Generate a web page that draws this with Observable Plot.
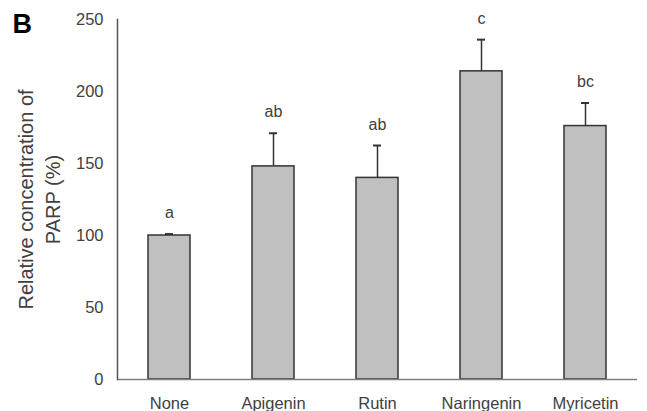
<!DOCTYPE html>
<html>
<head>
<meta charset="utf-8">
<script src="https://cdn.jsdelivr.net/npm/d3@7"></script>
<script src="https://cdn.jsdelivr.net/npm/@observablehq/plot@0.6"></script>
<style>
  html, body { margin: 0; padding: 0; background: #fff; }
  #chart { width: 647px; height: 411px; overflow: hidden; }
</style>
</head>
<body>
<div id="chart"></div>
<script>
const categories = ["None", "Apigenin", "Rutin", "Naringenin", "Myricetin"];
const means = [100, 148, 140, 214, 176];
const errors = [1, 23, 22.5, 22, 16];
const letters = ["a", "ab", "ab", "c", "bc"];
const yTicks = [0, 50, 100, 150, 200, 250];
const yTitle = "Relative concentration of\nPARP (%)";
const panelLabel = "B";

const data = categories.map((name, i) => ({
  name, mean: means[i], top: means[i] + errors[i], letter: letters[i]
}));

const font = "'Liberation Sans', Arial, Helvetica, sans-serif";
const textColor = "#404040";

const chart = Plot.plot({
  width: 647,
  height: 411,
  marginLeft: 117,
  marginRight: 10,
  marginTop: 19,
  marginBottom: 32,
  style: { fontFamily: font, color: textColor, background: "#fff", overflow: "visible" },
  x: { domain: categories, paddingInner: 0.6, paddingOuter: 0.3, axis: null },
  y: { domain: [0, 250], axis: null },
  marks: [
    Plot.axisY({ ticks: yTicks, tickSize: 0, tickPadding: 14, fontSize: 16.5, label: null }),
    Plot.axisX({ tickSize: 0, tickPadding: 18, fontSize: 16.5, label: null }),
    Plot.ruleX(data, { x: "name", y1: "mean", y2: "top", stroke: "#333", strokeWidth: 1.5 }),
    Plot.tickY(data, { x: "name", y: "top", stroke: "#333", strokeWidth: 2, insetLeft: 17, insetRight: 17 }),
    Plot.barY(data, { x: "name", y: "mean", fill: "#c0c0c0", stroke: "#333", strokeWidth: 1.5 }),
    Plot.ruleY([0], { stroke: "#808080", strokeWidth: 1.5 }),
    Plot.frame({ anchor: "left", stroke: "#555", strokeWidth: 1.5 }),
    Plot.text(data, { x: "name", y: "top", text: "letter", dy: -21, fontSize: 16, fill: textColor }),
    Plot.text([yTitle], { frameAnchor: "left", dx: -80, rotate: -90, fontSize: 20, lineAnchor: "middle", textAnchor: "middle", fill: textColor, lineHeight: 1.35 }),
    Plot.text([panelLabel], { frameAnchor: "top-left", dx: -105, dy: -6, fontSize: 27, fontWeight: "bold", textAnchor: "start", lineAnchor: "top", fill: "#000" })
  ]
});
document.getElementById("chart").appendChild(chart);
</script>
</body>
</html>
